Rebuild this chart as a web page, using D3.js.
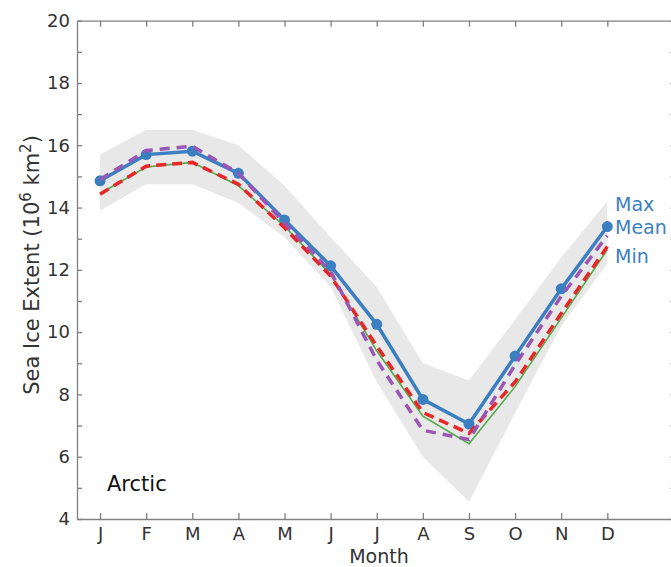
<!DOCTYPE html>
<html>
<head>
<meta charset="utf-8">
<script src="https://cdn.jsdelivr.net/npm/d3@7"></script>
<style>
  body { margin: 0; background: #fff; }
  #chart-container { width: 671px; height: 567px; }
  .axis path, .axis line { stroke: #808080; stroke-width: 1.3; }
  .axis text { font-family: "DejaVu Sans", sans-serif; font-size: 18px; fill: #333; }
</style>
</head>
<body>
<div id="chart-container"></div>
<script>
// month categories and tick labels
const monthLabels = ["J", "F", "M", "A", "M", "J", "J", "A", "S", "O", "N", "D"];
const monthIndex = [1, 2, 3, 4, 5, 6, 7, 8, 9, 10, 11, 12];
const yTickValues = [4, 5, 6, 7, 8, 9, 10, 11, 12, 13, 14, 15, 16, 17, 18, 19, 20];
const yTickLabels = [4, 6, 8, 10, 12, 14, 16, 18, 20];

// shaded range (10^6 km^2)
const rangeMax = [15.7, 16.5, 16.5, 16.0, 14.7, 13.05, 11.45, 9.0, 8.45, 10.4, 12.4, 14.2];
const rangeMin = [13.9, 14.75, 14.75, 14.15, 13.05, 11.45, 8.4, 6.0, 4.55, 7.4, 10.2, 12.2];

// mean (blue, dots)
const meanExtent = [14.86, 15.70, 15.81, 15.10, 13.60, 12.13, 10.25, 7.84, 7.05, 9.23, 11.39, 13.39];
// other curves
const purpleExtent = [14.9, 15.83, 15.97, 15.1, 13.5, 11.95, 9.1, 6.85, 6.55, 8.95, 11.15, 13.1];
const redExtent = [14.43, 15.33, 15.45, 14.75, 13.35, 11.8, 9.55, 7.42, 6.75, 8.4, 10.6, 12.75];
const greenExtent = [14.45, 15.3, 15.45, 14.7, 13.4, 11.85, 9.4, 7.3, 6.42, 8.25, 10.45, 12.65];

function renderChart() {
    d3.select("#chart-container svg").remove();

    const W = 671, H = 567;
    const margin = { top: 20.7, left: 77 };
    const plotRight = 676.5, plotBottom = 519;

    const svg = d3.select("#chart-container")
        .append("svg")
        .attr("width", W)
        .attr("height", H);

    const x = d3.scaleLinear().domain([0.5, 13.5]).range([margin.left, plotRight]);
    const y = d3.scaleLinear().domain([4, 20]).range([plotBottom, margin.top]);

    // gray band
    const area = d3.area()
        .x((d, i) => x(monthIndex[i]))
        .y0((d, i) => y(rangeMin[i]))
        .y1(d => y(d));
    svg.append("path")
        .datum(rangeMax)
        .attr("d", area)
        .attr("fill", "#e8e8e8");

    const line = d3.line()
        .x((d, i) => x(monthIndex[i]))
        .y(d => y(d));

    // mean line with dots
    svg.append("path")
        .datum(meanExtent)
        .attr("d", line)
        .attr("fill", "none")
        .attr("stroke", "#3b7fc1")
        .attr("stroke-width", 3.5);

    svg.selectAll(".dot")
        .data(meanExtent)
        .enter().append("circle")
        .attr("class", "dot")
        .attr("cx", (d, i) => x(monthIndex[i]))
        .attr("cy", d => y(d))
        .attr("r", 5.5)
        .attr("fill", "#3b7fc1");

    svg.append("path")
        .datum(greenExtent)
        .attr("d", line)
        .attr("fill", "none")
        .attr("stroke", "#4fae48")
        .attr("stroke-width", 1.6);

    svg.append("path")
        .datum(redExtent)
        .attr("d", line)
        .attr("fill", "none")
        .attr("stroke", "#e8262a")
        .attr("stroke-width", 3.5)
        .attr("stroke-dasharray", "10,6");

    svg.append("path")
        .datum(purpleExtent)
        .attr("d", line)
        .attr("fill", "none")
        .attr("stroke", "#9b55b5")
        .attr("stroke-width", 3.5)
        .attr("stroke-dasharray", "10,7");

    // axes (ticks pointing inward)
    svg.append("g")
        .attr("class", "axis")
        .attr("transform", `translate(0,${plotBottom})`)
        .call(d3.axisBottom(x)
            .tickValues(monthIndex)
            .tickFormat((d, i) => monthLabels[i])
            .tickSizeInner(-6)
            .tickSizeOuter(0)
            .tickPadding(8.5));

    svg.append("g")
        .attr("class", "axis")
        .attr("transform", `translate(0,${margin.top})`)
        .call(d3.axisTop(x)
            .tickValues(monthIndex)
            .tickFormat("")
            .tickSizeInner(-6)
            .tickSizeOuter(0));

    svg.append("g")
        .attr("class", "axis")
        .attr("transform", `translate(${margin.left},0)`)
        .call(d3.axisLeft(y)
            .tickValues(yTickValues)
            .tickFormat(d => yTickLabels.includes(d) ? d : "")
            .tickSizeInner(-5)
            .tickSizeOuter(0)
            .tickPadding(7));

    svg.append("g")
        .attr("class", "axis")
        .attr("transform", `translate(${plotRight},0)`)
        .call(d3.axisRight(y)
            .tickValues(yTickValues)
            .tickFormat("")
            .tickSizeInner(-6)
            .tickSizeOuter(0));

    // axis labels
    const ylab = svg.append("text")
        .attr("transform", "translate(39,265) rotate(-90)")
        .attr("text-anchor", "middle")
        .style("font-family", "DejaVu Sans, sans-serif")
        .style("font-size", "21px")
        .attr("fill", "#333");
    ylab.append("tspan").text("Sea Ice Extent (10");
    ylab.append("tspan").attr("dy", -8).style("font-size", "15px").text("6");
    ylab.append("tspan").attr("dy", 8).text(" km");
    ylab.append("tspan").attr("dy", -8).style("font-size", "15px").text("2");
    ylab.append("tspan").attr("dy", 8).text(")");

    svg.append("text")
        .attr("x", 379)
        .attr("y", 562.5)
        .attr("text-anchor", "middle")
        .style("font-family", "DejaVu Sans, sans-serif")
        .style("font-size", "19px")
        .attr("fill", "#333")
        .text("Month");

    svg.append("text")
        .attr("x", 107)
        .attr("y", 491)
        .style("font-family", "DejaVu Sans, sans-serif")
        .style("font-size", "21px")
        .attr("fill", "#111")
        .text("Arctic");

    // end labels
    const endLabels = [
        { text: "Max", y: 211 },
        { text: "Mean", y: 233.5 },
        { text: "Min", y: 263 }
    ];
    svg.selectAll(".endlab")
        .data(endLabels)
        .enter().append("text")
        .attr("class", "endlab")
        .attr("x", 615)
        .attr("y", d => d.y)
        .style("font-family", "DejaVu Sans, sans-serif")
        .style("font-size", "19px")
        .attr("fill", "#3b7fc1")
        .text(d => d.text);
}

renderChart();
</script>
</body>
</html>
